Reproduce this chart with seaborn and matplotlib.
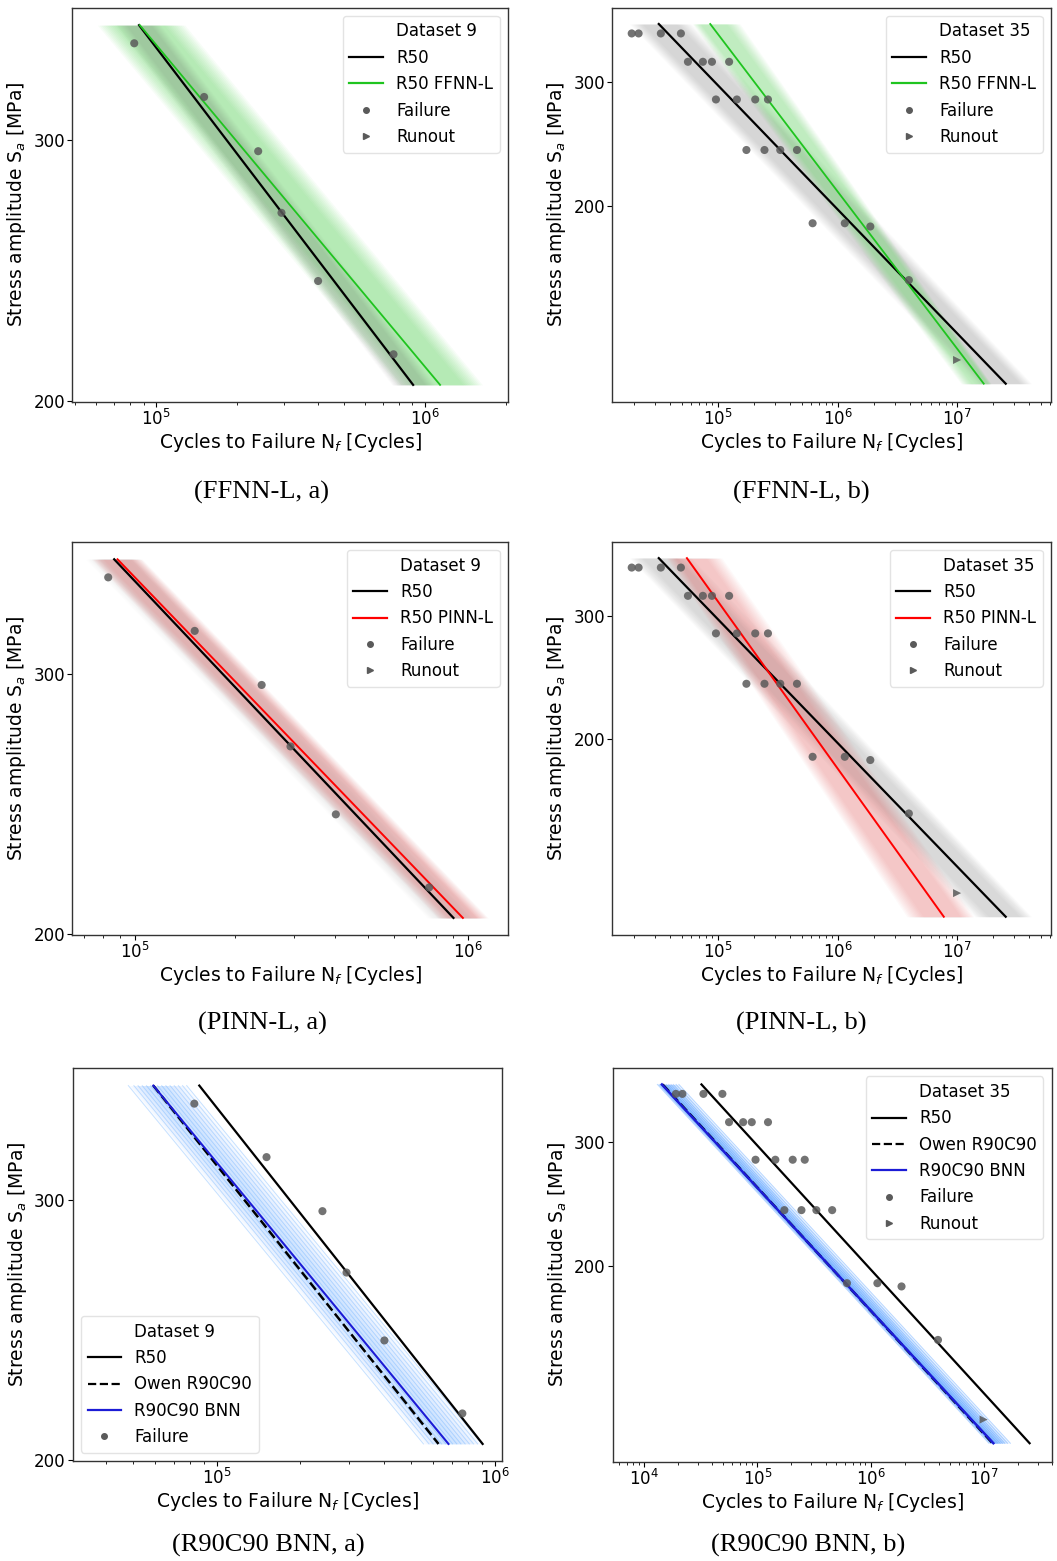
import numpy as np
import pandas as pd
import matplotlib
matplotlib.use("Agg")
import matplotlib.pyplot as plt
import seaborn as sns
from matplotlib.lines import Line2D
from matplotlib.ticker import NullLocator, NullFormatter, FixedLocator, FixedFormatter

# ---------------- data ----------------
# Dataset 9 experimental failures
d9_fail_N = [83000, 151000, 240000, 293000, 401000, 765000]
d9_fail_S = [349, 321, 295, 268, 241, 215]

# Dataset 35 experimental failures / runouts
d35_fail_N = [19000, 21700, 33300, 49000,
              56100, 74800, 89100, 124000,
              96200, 144000, 205000, 262000,
              173000, 245000, 332000, 458000,
              619000, 1150000, 1880000, 3950000]
d35_fail_S = [351, 351, 351, 351,
              320, 320, 320, 320,
              283, 283, 283, 283,
              240, 240, 240, 240,
              189, 189, 187, 157]
d35_run_N = [10000000]
d35_run_S = [121]

# curve end points (stress levels and cycles)
line_S_d9 = [359, 205]
r50_N_d9 = [86500, 905000]
ffnn_N_d9 = [87000, 1140000]
pinn_N_d9 = [88500, 966000]
bnn_N_d9 = [59100, 682000]
owen_N_d9 = [59100, 628000]

line_S_d35 = [362, 112]
r50_N_d35 = [32000, 25500000]
ffnn_N_d35 = [86200, 16700000]
pinn_N_d35 = [55000, 7740000]
bnn_N_d35 = [14300, 12200000]
owen_N_d35 = [14500, 12000000]

# scatter bands (left / right edge cycles at the two stress levels)
gray_lo_d9 = [71000, 755000]
gray_hi_d9 = [104000, 1090000]
green_lo_d9 = [60500, 790000]
green_hi_d9 = [128000, 1640000]
red_lo_d9 = [74000, 812000]
red_hi_d9 = [105000, 1150000]

gray_lo_d35 = [18200, 14000000]
gray_hi_d35 = [60000, 42000000]
green_lo_d35 = [61000, 10800000]
green_hi_d35 = [153000, 19200000]
red_lo_d35 = [37000, 3800000]
red_hi_d35 = [108000, 13800000]

# BNN sample curves (offsets in decades from the R90C90 BNN curve)
bnn_off_d9 = [-0.09, -0.07, -0.055, -0.04, -0.025, -0.01, 0.015, 0.03,
              0.045, 0.06, 0.075, 0.09, 0.105, 0.12]
bnn_off_d35 = [-0.04, -0.025, -0.01, 0.01, 0.025, 0.04, 0.06, 0.08,
               0.1, 0.125, 0.15]

captions = ["(FFNN-L, a)", "(FFNN-L, b)", "(PINN-L, a)", "(PINN-L, b)",
            "(R90C90 BNN, a)", "(R90C90 BNN, b)"]

# ---------------- style ----------------
plt.rcParams.update({
    "font.family": ["DejaVu Sans"],
    "axes.edgecolor": "#333333",
    "axes.linewidth": 1.0,
    "xtick.labelsize": 12,
    "ytick.labelsize": 12,
    "xtick.major.pad": 1.5,
    "ytick.major.pad": 1.5,
    "axes.labelsize": 13.5,
    "axes.labelpad": 1.5,
    "legend.fontsize": 12,
})

W, H = 1057, 1561
fig = plt.figure(figsize=(W / 100, H / 100), dpi=100)


def add_ax(l, t, r, b):
    return fig.add_axes([l / W, (H - b) / H, (r - l) / W, (b - t) / H])


PT_COLOR = "#5a5a5a"
GREEN = "#1fc41f"
BLUE = "#1c1cd6"


def soft_band(ax, S, lo, hi, center, color, alpha, n=10, core=0.55):
    """Band with a uniform core and a feathered edge (stack of fills)."""
    S = np.asarray(S, float)
    lo, hi, c = (np.asarray(v, float) for v in (lo, hi, center))
    for k in range(n + 1):
        f = core + (1 - core) * k / n
        left = c * (lo / c) ** f
        right = c * (hi / c) ** f
        ax.fill_betweenx(S, left, right, color=color, alpha=alpha, lw=0)


def line(ax, N, S, color, ls="-", lw=1.6, alpha=1.0):
    df = pd.DataFrame({"N": N, "S": S})
    sns.lineplot(data=df, x="N", y="S", ax=ax, color=color, linestyle=ls,
                 lw=lw, alpha=alpha, sort=False, estimator=None, legend=False)


def points(ax, N, S, marker="o"):
    df = pd.DataFrame({"N": N, "S": S})
    sns.scatterplot(data=df, x="N", y="S", ax=ax, color=PT_COLOR, marker=marker,
                    s=34, alpha=0.85, edgecolor="none", legend=False, zorder=5)


def setup(ax, xlim, ylim):
    ax.set_xscale("log")
    ax.set_yscale("log")
    ax.set_xlim(*xlim)
    ax.set_ylim(*ylim)
    ax.yaxis.set_major_locator(FixedLocator([200, 300]))
    ax.yaxis.set_major_formatter(FixedFormatter(["200", "300"]))
    ax.yaxis.set_minor_locator(NullLocator())
    ax.xaxis.set_minor_formatter(NullFormatter())
    ax.set_xlabel("Cycles to Failure N$_f$ [Cycles]")
    ax.set_ylabel("Stress amplitude S$_a$ [MPa]", labelpad=4)


def legend(ax, title, extra, runout=True, loc="upper right"):
    handles = [Line2D([], [], ls="none", marker=None),
               Line2D([], [], color="black", lw=1.6)]
    labels = [title, "R50"]
    for lab, col, ls in extra:
        handles.append(Line2D([], [], color=col, lw=1.6, ls=ls))
        labels.append(lab)
    handles.append(Line2D([], [], ls="none", marker="o", color=PT_COLOR, ms=4))
    labels.append("Failure")
    if runout:
        handles.append(Line2D([], [], ls="none", marker=">", color=PT_COLOR, ms=4))
        labels.append("Runout")
    ax.legend(handles, labels, loc=loc, frameon=True, framealpha=0.8,
              edgecolor="#dddddd")


xlim_d9_a = (48700, 2040000)
xlim_d9_p = (64600, 1320000)
xlim_d9_b = (30300, 1060000)
xlim_d35 = (13000, 61000000)
xlim_d35_b = (5250, 40000000)
ylim_d9 = (199.6, 369)
ylim_d35 = (105.5, 382)

# ---------- (FFNN-L, a) ----------
ax = add_ax(72, 7.5, 508, 402)
setup(ax, xlim_d9_a, ylim_d9)
soft_band(ax, line_S_d9, green_lo_d9, green_hi_d9, ffnn_N_d9, "#4cd44c", 0.045)
soft_band(ax, line_S_d9, gray_lo_d9, gray_hi_d9, r50_N_d9, "#707070", 0.025)
points(ax, d9_fail_N, d9_fail_S)
line(ax, r50_N_d9, line_S_d9, "black")
line(ax, ffnn_N_d9, line_S_d9, GREEN, lw=1.3)
legend(ax, "Dataset 9", [("R50 FFNN-L", GREEN, "-")])

# ---------- (FFNN-L, b) ----------
ax = add_ax(612, 7.5, 1051, 402)
setup(ax, xlim_d35, ylim_d35)
soft_band(ax, line_S_d35, gray_lo_d35, gray_hi_d35, r50_N_d35, "#808080", 0.03)
soft_band(ax, line_S_d35, green_lo_d35, green_hi_d35, ffnn_N_d35, "#4cd44c", 0.035)
points(ax, d35_fail_N, d35_fail_S)
points(ax, d35_run_N, d35_run_S, marker=">")
line(ax, r50_N_d35, line_S_d35, "black")
line(ax, ffnn_N_d35, line_S_d35, GREEN, lw=1.3)
legend(ax, "Dataset 35", [("R50 FFNN-L", GREEN, "-")])

# ---------- (PINN-L, a) ----------
ax = add_ax(72, 541.7, 508, 935)
setup(ax, xlim_d9_p, ylim_d9)
soft_band(ax, line_S_d9, gray_lo_d9, gray_hi_d9, r50_N_d9, "#909090", 0.012)
soft_band(ax, line_S_d9, red_lo_d9, red_hi_d9, pinn_N_d9, "#e05a5a", 0.04)
points(ax, d9_fail_N, d9_fail_S)
line(ax, r50_N_d9, line_S_d9, "black")
line(ax, pinn_N_d9, line_S_d9, "red", lw=1.4)
legend(ax, "Dataset 9", [("R50 PINN-L", "red", "-")])

# ---------- (PINN-L, b) ----------
ax = add_ax(612, 541.7, 1051, 935)
setup(ax, xlim_d35, ylim_d35)
soft_band(ax, line_S_d35, gray_lo_d35, gray_hi_d35, r50_N_d35, "#808080", 0.028)
soft_band(ax, line_S_d35, red_lo_d35, red_hi_d35, pinn_N_d35, "#ee5050", 0.032)
points(ax, d35_fail_N, d35_fail_S)
points(ax, d35_run_N, d35_run_S, marker=">")
line(ax, r50_N_d35, line_S_d35, "black")
line(ax, pinn_N_d35, line_S_d35, "red", lw=1.4)
legend(ax, "Dataset 35", [("R50 PINN-L", "red", "-")])

# ---------- (R90C90 BNN, a) ----------
ax = add_ax(72.7, 1068, 501.7, 1461)
setup(ax, xlim_d9_b, ylim_d9)
bn = np.asarray(bnn_N_d9, float)
soft_band(ax, line_S_d9, bn * 10 ** min(bnn_off_d9), bn * 10 ** max(bnn_off_d9),
          bn, "#5aa8ff", 0.028, core=0.3)
for off in bnn_off_d9:
    line(ax, bn * 10 ** off, line_S_d9, "#4aa0ff", lw=0.7, alpha=0.3)
points(ax, d9_fail_N, d9_fail_S)
line(ax, r50_N_d9, line_S_d9, "black")
line(ax, owen_N_d9, line_S_d9, "black", ls="--", lw=1.8)
line(ax, bnn_N_d9, line_S_d9, BLUE, lw=1.5)
legend(ax, "Dataset 9", [("Owen R90C90", "black", "--"), ("R90C90 BNN", BLUE, "-")],
       runout=False, loc="lower left")

# ---------- (R90C90 BNN, b) ----------
ax = add_ax(612.7, 1068, 1051.7, 1461.5)
setup(ax, xlim_d35_b, ylim_d35)
bn = np.asarray(bnn_N_d35, float)
soft_band(ax, line_S_d35, bn * 10 ** min(bnn_off_d35), bn * 10 ** max(bnn_off_d35),
          bn, "#2f8cff", 0.05, core=0.3)
for off in bnn_off_d35:
    line(ax, bn * 10 ** off, line_S_d35, "#3a90ff", lw=0.7, alpha=0.35)
points(ax, d35_fail_N, d35_fail_S)
points(ax, d35_run_N, d35_run_S, marker=">")
line(ax, r50_N_d35, line_S_d35, "black")
line(ax, owen_N_d35, line_S_d35, "black", ls="--", lw=1.8)
line(ax, bnn_N_d35, line_S_d35, BLUE, lw=1.8)
legend(ax, "Dataset 35", [("Owen R90C90", "black", "--"), ("R90C90 BNN", BLUE, "-")])

# ---------- captions ----------
cap_pos = [(262, 492), (801, 492), (262, 1023), (801, 1023), (268, 1545), (808, 1545)]
for (cx, cy), txt in zip(cap_pos, captions):
    fig.text(cx / W, 1 - cy / H, txt, ha="center", va="center",
             family=["Liberation Serif", "DejaVu Serif"], fontsize=19)

fig.savefig("out.png", dpi=100, facecolor="white")
